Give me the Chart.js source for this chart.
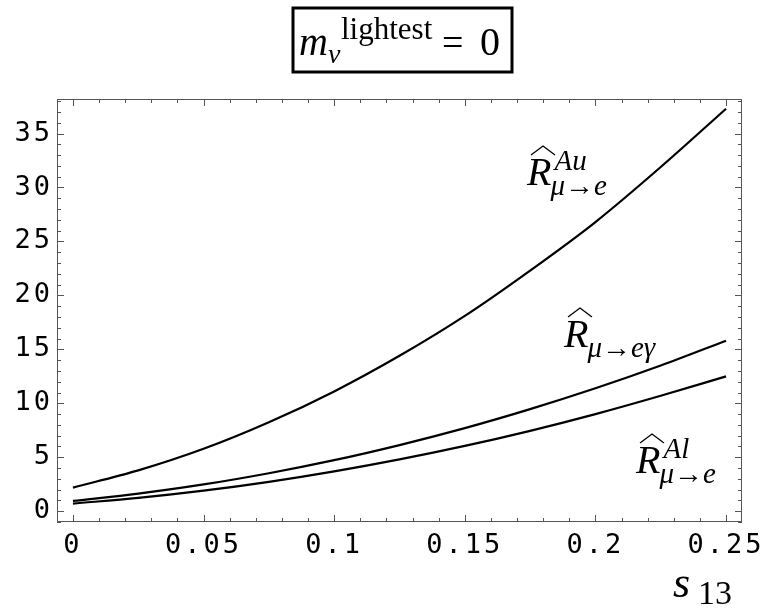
<!DOCTYPE html>
<html>
<head>
<meta charset="utf-8">
<script src="https://cdn.jsdelivr.net/npm/chart.js@4.4.1/dist/chart.umd.min.js"></script>
<style>
  html, body { margin: 0; padding: 0; background: #fff; }
  canvas { display: block; }
</style>
</head>
<body>
<canvas id="chart" width="765" height="610"></canvas>
<script>
"use strict";

// s13 values and the three curves
var s13 = [0, 0.025, 0.05, 0.075, 0.1, 0.125, 0.15, 0.175, 0.2, 0.225, 0.25];
var rAu = [2.19, 3.78, 5.78, 8.24, 11.1, 14.4, 18.1, 22.3, 26.8, 31.9, 37.3];
var rEgamma = [0.95, 1.63, 2.48, 3.52, 4.73, 6.13, 7.70, 9.46, 11.39, 13.5, 15.8];
var rAl = [0.71, 1.23, 1.90, 2.72, 3.69, 4.80, 6.05, 7.45, 9.0, 10.7, 12.5];

var xMajor = 0.05, yMajor = 5;

function points(ys) {
    return s13.map(function (x, i) { return {x: x, y: ys[i]}; });
}

function curve(label, ys) {
    return {
        label: label,
        data: points(ys),
        borderColor: '#000',
        borderWidth: 2.2,
        pointRadius: 0,
        fill: false,
        cubicInterpolationMode: 'monotone'
    };
}

var serif = '"Liberation Serif", "DejaVu Serif", serif';

function txt(ctx, s, x, y, font) {
    ctx.font = font;
    ctx.fillText(s, x, y);
    return x + ctx.measureText(s).width;
}

function hat(ctx, x0, x1, yBase, h) {
    ctx.beginPath();
    ctx.moveTo(x0, yBase);
    ctx.lineTo((x0 + x1) / 2, yBase - h);
    ctx.lineTo(x1, yBase);
    ctx.lineWidth = 1.3;
    ctx.stroke();
}

// R-hat with optional super/subscript
function rLabel(ctx, x, base, sup, sub) {
    var big = 'italic 40px ' + serif;
    var small = 'italic 29px ' + serif;
    hat(ctx, x + 4, x + 28, base - 30, 9);
    var xe = txt(ctx, 'R', x, base, big);
    if (sup) txt(ctx, sup, xe + 3, base - 15, small);
    txt(ctx, sub, xe - 1, base + 10, small);
}

var framePlugin = {
    id: 'frame',
    beforeDraw: function (chart) {
        chart.ctx.letterSpacing = '3px';
    },
    afterDraw: function (chart) {
        var ctx = chart.ctx, a = chart.chartArea;
        var sx = chart.scales.x, sy = chart.scales.y;
        ctx.save();
        ctx.letterSpacing = '0px';
        ctx.strokeStyle = '#555';
        ctx.lineWidth = 1;
        ctx.strokeRect(a.left + 0.5, a.top + 0.5, a.right - a.left - 1, a.bottom - a.top - 1);

        ctx.beginPath();
        sx.ticks.forEach(function (t) {
            var px = Math.round(sx.getPixelForValue(t.value)) + 0.5;
            var len = Math.round(t.value * 100) % 5 === 0 ? 7 : 4;
            ctx.moveTo(px, a.bottom); ctx.lineTo(px, a.bottom - len);
            ctx.moveTo(px, a.top); ctx.lineTo(px, a.top + len);
        });
        sy.ticks.forEach(function (t) {
            var py = Math.round(sy.getPixelForValue(t.value)) + 0.5;
            var len = t.value % yMajor === 0 ? 7 : 4;
            ctx.moveTo(a.left, py); ctx.lineTo(a.left + len, py);
            ctx.moveTo(a.right, py); ctx.lineTo(a.right - len, py);
        });
        ctx.stroke();

        ctx.fillStyle = '#000';
        ctx.strokeStyle = '#000';
        ctx.textBaseline = 'alphabetic';
        ctx.textAlign = 'left';

        // boxed title
        ctx.lineWidth = 3;
        ctx.strokeRect(293, 8, 219, 64);
        txt(ctx, 'm', 299, 55, 'italic 40px ' + serif);
        txt(ctx, 'ν', 328, 63, 'italic 28px ' + serif);
        txt(ctx, 'lightest', 341, 39, '31px ' + serif);
        txt(ctx, '=', 442, 55, '38px ' + serif);
        txt(ctx, '0', 480, 55, '40px ' + serif);

        // curve labels
        rLabel(ctx, 527, 185, 'Au', 'μ→e');
        rLabel(ctx, 564, 347, null, 'μ→eγ');
        rLabel(ctx, 636, 473, 'Al', 'μ→e');

        // axis label
        txt(ctx, 's', 673, 597, 'italic 44px ' + serif);
        txt(ctx, '13', 698, 604, '34px ' + serif);
        ctx.restore();
    }
};

var tickFont = {family: '"DejaVu Sans Mono", monospace', size: 27};

new Chart(document.getElementById('chart'), {
    type: 'line',
    data: {
        datasets: [
            curve('R Au', rAu),
            curve('R e gamma', rEgamma),
            curve('R Al', rAl)
        ]
    },
    options: {
        responsive: false,
        animation: false,
        devicePixelRatio: 1,
        layout: {
            padding: {top: 99, right: 23, left: 0, bottom: 0}
        },
        plugins: {
            legend: {display: false},
            tooltip: {enabled: false}
        },
        scales: {
            x: {
                type: 'linear',
                min: -0.0061,
                max: 0.2561,
                grid: {display: false, drawTicks: false},
                border: {display: false},
                ticks: {
                    stepSize: 0.01,
                    includeBounds: false,
                    autoSkip: false,
                    maxRotation: 0,
                    padding: 8,
                    color: '#000',
                    font: tickFont,
                    callback: function (v) {
                        return Math.round(v * 100) % 5 === 0 ? String(v) : '';
                    }
                },
                afterFit: function (s) {
                    s.height = 88;
                    s.paddingLeft = 0;
                    s.paddingRight = 0;
                }
            },
            y: {
                min: -1.0,
                max: 38.2,
                grid: {display: false, drawTicks: false},
                border: {display: false},
                ticks: {
                    stepSize: 1,
                    includeBounds: false,
                    autoSkip: false,
                    padding: 4,
                    color: '#000',
                    font: tickFont,
                    callback: function (v) {
                        return v % yMajor === 0 ? String(v) : '';
                    }
                },
                afterFit: function (s) {
                    s.width = 57;
                    s.paddingTop = 0;
                    s.paddingBottom = 0;
                }
            }
        }
    },
    plugins: [framePlugin]
});
</script>
</body>
</html>
